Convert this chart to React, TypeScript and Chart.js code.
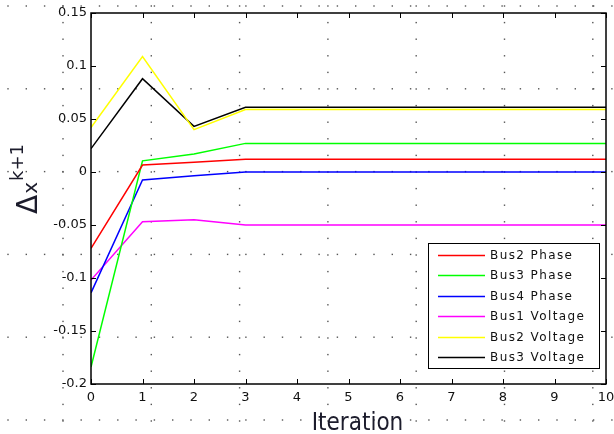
import React, { useEffect, useRef } from "react";
import { Chart, registerables } from "chart.js";

Chart.register(...registerables);

// ---- Data ----
const iterations = [0, 1, 2, 3, 4, 5, 6, 7, 8, 9, 10];
const bus2Phase = [-0.072, 0.0066, 0.0092, 0.012, 0.012, 0.012, 0.012, 0.012, 0.012, 0.012, 0.012];
const bus3Phase = [-0.184, 0.0105, 0.017, 0.027, 0.027, 0.027, 0.027, 0.027, 0.027, 0.027, 0.027];
const bus4Phase = [-0.114, -0.0075, -0.0035, 0.0, 0.0, 0.0, 0.0, 0.0, 0.0, 0.0, 0.0];
const bus1Voltage = [-0.102, -0.047, -0.045, -0.05, -0.05, -0.05, -0.05, -0.05, -0.05, -0.05, -0.05];
const bus2Voltage = [0.042, 0.109, 0.04, 0.059, 0.059, 0.059, 0.059, 0.059, 0.059, 0.059, 0.059];
const bus3Voltage = [0.022, 0.088, 0.043, 0.061, 0.061, 0.061, 0.061, 0.061, 0.061, 0.061, 0.061];

const seriesValues = [bus2Phase, bus3Phase, bus4Phase, bus1Voltage, bus2Voltage, bus3Voltage];
const seriesLabels = ["Bus2 Phase", "Bus3 Phase", "Bus4 Phase", "Bus1 Voltage", "Bus2 Voltage", "Bus3 Voltage"];
const seriesColors = ["#ff0000", "#00ff00", "#0000ff", "#ff00ff", "#ffff00", "#000000"];

const xTickValues = iterations;
const yTickValues = [-0.2, -0.15, -0.1, -0.05, 0, 0.05, 0.1, 0.15];
const xAxisTitle = "Iteration";
const yAxisTitleMain = "Δ";
const yAxisTitleVar = "x";
const yAxisTitleSup = "k+1";

const fmt = (v: number) => String(Number(v.toFixed(2)));

const bgDotsPlugin = {
  id: "bgDots",
  beforeDraw(chart: any) {
    const ctx = chart.ctx;
    const W = chart.width;
    const H = chart.height;
    ctx.save();
    ctx.fillStyle = "#555";
    for (let yy = 6; yy < H; yy += 82.8) {
      for (let xx = 8; xx < W; xx += 18.3) ctx.fillRect(xx - 0.7, yy - 0.7, 1.4, 1.4);
    }
    for (let xx = 63; xx < W; xx += 88.3) {
      for (let yy = 6; yy < H; yy += 16.6) ctx.fillRect(xx - 0.7, yy - 0.7, 1.4, 1.4);
    }
    ctx.restore();
  },
};

const framePlugin = {
  id: "frame",
  afterDatasetsDraw(chart: any) {
    const { ctx, chartArea } = chart;
    const { left, right, top, bottom } = chartArea;
    const xs = chart.scales.x;
    const ys = chart.scales.y;
    ctx.save();
    ctx.strokeStyle = "#000";
    ctx.lineWidth = 1;
    const seg = (a: number, b: number, c: number, d: number) => {
      ctx.beginPath();
      ctx.moveTo(a, b);
      ctx.lineTo(c, d);
      ctx.stroke();
    };
    xs.ticks.forEach((t: any) => {
      const px = Math.round(xs.getPixelForValue(t.value)) + 0.5;
      seg(px, bottom, px, bottom - 5);
      seg(px, top, px, top + 5);
    });
    ys.ticks.forEach((t: any) => {
      const py = Math.round(ys.getPixelForValue(t.value)) + 0.5;
      seg(left, py, left + 5, py);
      seg(right, py, right - 5, py);
    });
    ctx.lineWidth = 1.5;
    ctx.strokeRect(left, top, right - left, bottom - top);
    ctx.restore();
  },
};

const legendPlugin = {
  id: "boxLegend",
  afterDraw(chart: any) {
    const { ctx, chartArea } = chart;
    const bw = 171;
    const bh = 125;
    const bx = chartArea.right - 178;
    const by = chartArea.bottom - 141;
    ctx.save();
    ctx.fillStyle = "#fff";
    ctx.fillRect(bx, by, bw, bh);
    ctx.strokeStyle = "#000";
    ctx.lineWidth = 1;
    ctx.strokeRect(bx + 0.5, by + 0.5, bw, bh);
    chart.data.datasets.forEach((ds: any, i: number) => {
      const cy = Math.round(by + 12 + i * 20.4) + 0.5;
      ctx.strokeStyle = ds.borderColor;
      ctx.lineWidth = 1.5;
      ctx.beginPath();
      ctx.moveTo(bx + 10, cy);
      ctx.lineTo(bx + 57, cy);
      ctx.stroke();
      ctx.fillStyle = "#111";
      ctx.font = "12px 'DejaVu Sans'";
      (ctx as any).letterSpacing = "1.4px";
      ctx.textBaseline = "middle";
      ctx.textAlign = "left";
      ctx.fillText(ds.label, bx + 62, cy);
      (ctx as any).letterSpacing = "0px";
    });
    ctx.restore();
  },
};

const titlesPlugin = {
  id: "axisTitles",
  afterDraw(chart: any) {
    const { ctx, chartArea } = chart;
    ctx.save();
    ctx.fillStyle = "#1c1c2c";
    ctx.textAlign = "center";
    ctx.textBaseline = "alphabetic";
    ctx.font = "24px 'DejaVu Sans Condensed', 'DejaVu Sans'";
    ctx.fillText(xAxisTitle, (chartArea.left + chartArea.right) / 2 + 9, 430);

    // rotated y title: Δx^{k+1}
    ctx.translate(37, 214);
    ctx.rotate(-Math.PI / 2);
    ctx.textAlign = "left";
    ctx.font = "28px 'DejaVu Sans'";
    ctx.fillText(yAxisTitleMain, 0, 0);
    const w1 = ctx.measureText(yAxisTitleMain).width;
    ctx.font = "20px 'DejaVu Sans'";
    ctx.fillText(yAxisTitleVar, w1 + 1, 0);
    const w2 = ctx.measureText(yAxisTitleVar).width;
    ctx.font = "18px 'DejaVu Sans'";
    ctx.fillText(yAxisTitleSup, w1 + w2 + 2, -14);
    ctx.restore();
  },
};

export default function App() {
  const canvasRef = useRef<HTMLCanvasElement | null>(null);

  useEffect(() => {
    const canvas = canvasRef.current;
    if (!canvas) return;
    const chart = new Chart(canvas, {
      type: "line",
      data: {
        datasets: seriesValues.map((vals, i) => ({
          label: seriesLabels[i],
          data: iterations.map((x, j) => ({ x, y: vals[j] })),
          borderColor: seriesColors[i],
          backgroundColor: seriesColors[i],
          borderWidth: 1.5,
          pointRadius: 0,
          tension: 0,
          fill: false,
        })),
      },
      options: {
        animation: false,
        responsive: false,
        events: [],
        layout: { padding: { left: 0, top: 13, right: 8, bottom: 0 } },
        plugins: {
          legend: { display: false },
          tooltip: { enabled: false },
          title: { display: false },
        },
        scales: {
          x: {
            type: "linear",
            min: 0,
            max: 10,
            afterBuildTicks: (s: any) => {
              s.ticks = xTickValues.map((v) => ({ value: v }));
            },
            afterFit: (s: any) => {
              s.height = 50;
              s.paddingLeft = 0;
              s.paddingRight = 0;
            },
            grid: { display: false, drawTicks: false },
            border: { display: false },
            ticks: {
              padding: 6,
              color: "#111",
              font: { family: "'DejaVu Sans'", size: 13 },
              maxRotation: 0,
              autoSkip: false,
              callback: (v: any) => String(v),
            },
          },
          y: {
            type: "linear",
            min: -0.2,
            max: 0.15,
            afterBuildTicks: (s: any) => {
              s.ticks = yTickValues.map((v) => ({ value: v }));
            },
            afterFit: (s: any) => {
              s.width = 91;
              s.paddingTop = 0;
              s.paddingBottom = 0;
            },
            grid: { display: false, drawTicks: false },
            border: { display: false },
            ticks: {
              padding: 4,
              color: "#111",
              font: { family: "'DejaVu Sans'", size: 13 },
              autoSkip: false,
              callback: (v: any) => fmt(Number(v)),
            },
          },
        },
      } as any,
      plugins: [bgDotsPlugin, framePlugin, legendPlugin, titlesPlugin],
    });
    return () => chart.destroy();
  }, []);

  return (
    <div style={{ position: "fixed", left: 0, top: 0, width: 614, height: 434, background: "#fff" }}>
      <canvas ref={canvasRef} width={614} height={434} />
    </div>
  );
}
